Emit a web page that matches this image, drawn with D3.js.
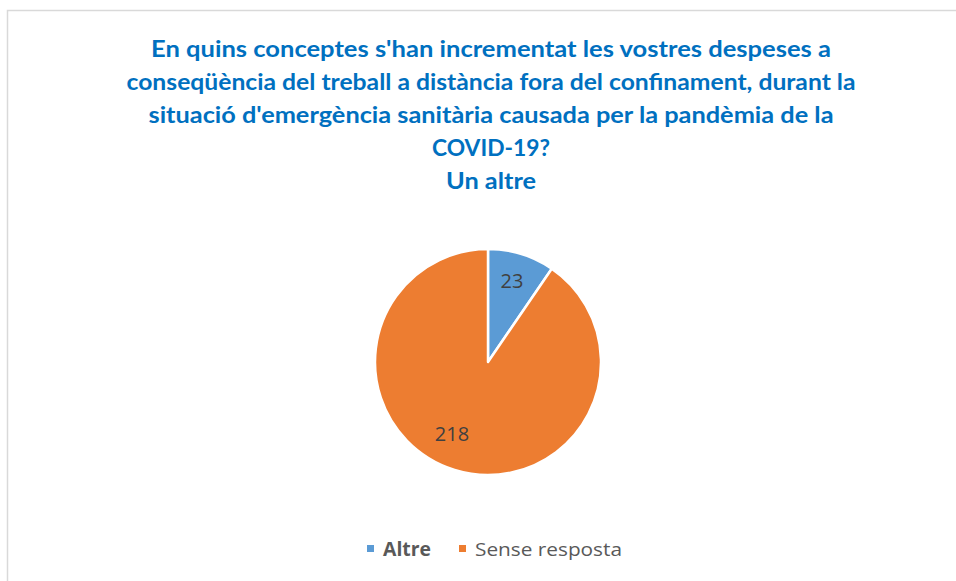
<!DOCTYPE html>
<html><head><meta charset="utf-8">
<script src="https://cdn.jsdelivr.net/npm/d3@7/dist/d3.min.js"></script>
<style>body{margin:0;background:#fff;} svg{display:block;}</style>
</head><body>
<svg id="chart" width="956" height="581"></svg>
<script>
const categories = ["Altre", "Sense resposta"];
const values = [23, 218];
const colors = ["#5B9BD5", "#ED7D31"];
const titleLines = [
  "En quins conceptes s'han incrementat les vostres despeses a",
  "conseqüència del treball a distància fora del confinament, durant la",
  "situació d'emergència sanitària causada per la pandèmia de la",
  "COVID-19?",
  "Un altre"
];
const titleWidths = [680, 729, 685, 118, 90];

const svg = d3.select("#chart");
svg.append("rect").attr("x", 7.5).attr("y", 10.5).attr("width", 960).attr("height", 600)
  .attr("fill", "#fff").attr("stroke", "#d9d9d9").attr("stroke-width", 1.5);

const title = svg.append("g");
titleLines.forEach((t, i) => {
  title.append("text").attr("x", 491).attr("y", 57 + i * 33)
    .attr("text-anchor", "middle").attr("font-family", "Lato, 'Open Sans', sans-serif")
    .attr("font-weight", "bold").attr("font-size", 23).attr("fill", "#0070C0")
    .attr("textLength", titleWidths[i]).attr("lengthAdjust", "spacingAndGlyphs")
    .text(t);
});

const cx = 488, cy = 362, r = 113;
const pie = d3.pie().sort(null).value(d => d);
const arcs = pie(values);
const arc = d3.arc().innerRadius(0).outerRadius(r);
const labelArc = d3.arc().innerRadius(r * 0.72).outerRadius(r * 0.72);
const labelShift = [[0, -3], [-12, -6]];
const g = svg.append("g").attr("transform", `translate(${cx},${cy})`);
g.selectAll("path").data(arcs).join("path")
  .attr("d", arc).attr("fill", (d, i) => colors[i])
  .attr("stroke", "#fff").attr("stroke-width", 2.5).attr("stroke-linejoin", "round");
g.selectAll("text").data(arcs).join("text")
  .attr("transform", (d, i) => {
    const [x, y] = labelArc.centroid(d);
    return `translate(${x + labelShift[i][0]},${y + labelShift[i][1]})`;
  })
  .attr("text-anchor", "middle").attr("dy", "0.35em")
  .attr("font-family", "'Open Sans', sans-serif").attr("font-size", 20).attr("fill", "#404040")
  .text(d => d.data);

const legend = svg.append("g");
const legendX = [367, 459];
const legendW = [48, 147];
categories.forEach((c, i) => {
  legend.append("rect").attr("x", legendX[i]).attr("y", 545).attr("width", 7).attr("height", 7).attr("fill", colors[i]);
  legend.append("text").attr("x", legendX[i] + 16).attr("y", 555.5)
    .attr("font-family", "'Open Sans', sans-serif").attr("font-size", 19)
    .attr("font-weight", i === 0 ? "bold" : "normal").attr("fill", "#595959")
    .attr("textLength", legendW[i]).attr("lengthAdjust", "spacingAndGlyphs")
    .text(c);
});
</script>
</body></html>
